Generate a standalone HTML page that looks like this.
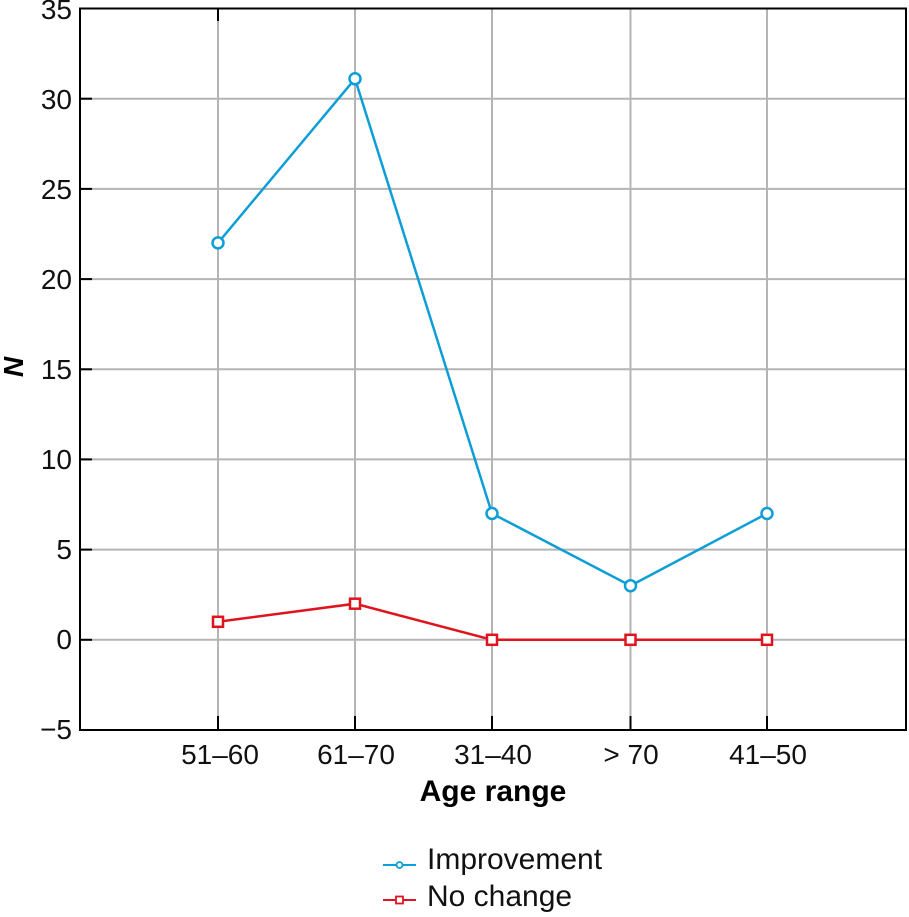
<!DOCTYPE html>
<html><head><style>body{margin:0;background:#fff}</style></head><body>
<svg width="909" height="912" xmlns="http://www.w3.org/2000/svg" font-family="Liberation Sans, DejaVu Sans, sans-serif">
<g stroke="#b4b4b4" stroke-width="2">
<line x1="80" x2="906" y1="98.7" y2="98.7"/><line x1="80" x2="906" y1="188.9" y2="188.9"/><line x1="80" x2="906" y1="279.1" y2="279.1"/><line x1="80" x2="906" y1="369.3" y2="369.3"/><line x1="80" x2="906" y1="459.4" y2="459.4"/><line x1="80" x2="906" y1="549.6" y2="549.6"/><line x1="80" x2="906" y1="639.8" y2="639.8"/>
<line x1="218" x2="218" y1="8.5" y2="730"/><line x1="355" x2="355" y1="8.5" y2="730"/><line x1="492" x2="492" y1="8.5" y2="730"/><line x1="630.5" x2="630.5" y1="8.5" y2="730"/><line x1="767" x2="767" y1="8.5" y2="730"/>
</g>
<rect x="80" y="8.5" width="826" height="721.5" fill="none" stroke="#000" stroke-width="2"/>
<g stroke="#000" stroke-width="2">
<line x1="80" x2="92" y1="98.7" y2="98.7"/><line x1="80" x2="92" y1="188.9" y2="188.9"/><line x1="80" x2="92" y1="279.1" y2="279.1"/><line x1="80" x2="92" y1="369.3" y2="369.3"/><line x1="80" x2="92" y1="459.4" y2="459.4"/><line x1="80" x2="92" y1="549.6" y2="549.6"/><line x1="80" x2="92" y1="639.8" y2="639.8"/>
<line x1="218" x2="218" y1="730" y2="716"/><line x1="355" x2="355" y1="730" y2="716"/><line x1="492" x2="492" y1="730" y2="716"/><line x1="630.5" x2="630.5" y1="730" y2="716"/><line x1="767" x2="767" y1="730" y2="716"/>
<line x1="218" x2="218" y1="8.5" y2="21"/>
</g>
<g font-size="28" text-anchor="end" fill="#111">
<text x="72" y="19">35</text><text x="72" y="109">30</text><text x="72" y="199">25</text><text x="72" y="289">20</text><text x="72" y="379">15</text><text x="72" y="469">10</text><text x="72" y="559">5</text><text x="72" y="649">0</text><text x="72" y="739">−5</text>
</g>
<g font-size="28" text-anchor="middle" fill="#111">
<text x="220" y="764">51–60</text><text x="356" y="764">61–70</text><text x="493" y="764">31–40</text><text x="631" y="764">&gt; 70</text><text x="768" y="764">41–50</text>
</g>
<text x="493" y="801" font-size="30" font-weight="bold" text-anchor="middle">Age range</text>
<text transform="translate(23,367) rotate(-90)" font-size="28" font-weight="bold" font-style="italic" text-anchor="middle">N</text>
<polyline points="218,242.9 355,78.8 492,513.5 630.5,585.7 767,513.5" fill="none" stroke="#0d9ed8" stroke-width="2.5"/>
<g fill="#fff" stroke="#0d9ed8" stroke-width="2.5">
<circle cx="218" cy="242.9" r="5.5"/><circle cx="355" cy="78.8" r="5.5"/><circle cx="492" cy="513.5" r="5.5"/><circle cx="630.5" cy="585.7" r="5.5"/><circle cx="767" cy="513.5" r="5.5"/>
</g>
<polyline points="218,621.8 355,603.7 492,639.8 630.5,639.8 767,639.8" fill="none" stroke="#e0141e" stroke-width="2.5"/>
<g fill="#fff" stroke="#e0141e" stroke-width="2.5">
<rect x="213" y="616.8" width="10" height="10"/><rect x="350" y="598.7" width="10" height="10"/><rect x="487" y="634.8" width="10" height="10"/><rect x="625.5" y="634.8" width="10" height="10"/><rect x="762" y="634.8" width="10" height="10"/>
</g>
<line x1="383" x2="416" y1="865" y2="865" stroke="#0d9ed8" stroke-width="2"/>
<circle cx="399.5" cy="865" r="3" fill="#fff" stroke="#0d9ed8" stroke-width="1.8"/>
<text x="427" y="869" font-size="30" fill="#111">Improvement</text>
<line x1="383" x2="416" y1="900" y2="900" stroke="#e0141e" stroke-width="2"/>
<rect x="396" y="896.5" width="7" height="7" fill="#fff" stroke="#e0141e" stroke-width="1.8"/>
<text x="427" y="906" font-size="30" fill="#111">No change</text>
</svg>
</body></html>
